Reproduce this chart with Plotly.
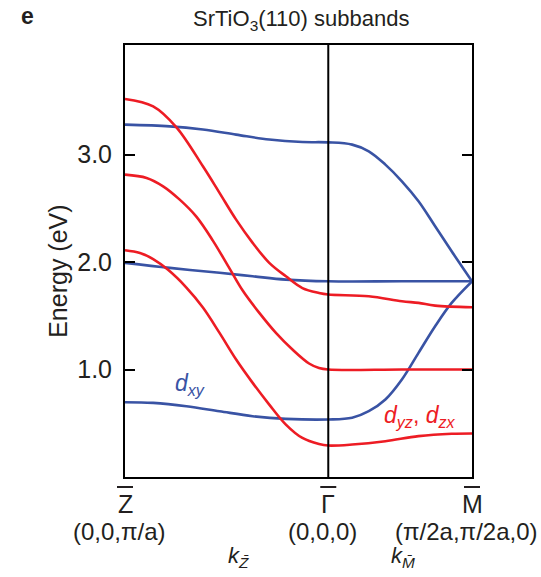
import plotly.graph_objects as go

# k-path positions (units of pi/a): Z-bar, Gamma-bar, M-bar
K_Z = 0.0
K_G = 1.0
K_M = 1.7071
point_labels = ["Z", "Γ", "M"]
point_coords = ["(0,0,π/a)", "(0,0,0)", "(π/2a,π/2a,0)"]

# d_xy subbands (blue)
xy1_k = [0, 0.2203, 0.3833, 0.5467, 0.7097, 0.8727, 1.0, 1.1175, 1.1992, 1.2810, 1.3622, 1.4440, 1.5257, 1.6070, 1.7071]
xy1_e = [3.279, 3.263, 3.233, 3.186, 3.140, 3.117, 3.114, 3.093, 3.031, 2.907, 2.752, 2.566, 2.333, 2.100, 1.821]
xy2_k = [0, 0.2203, 0.4650, 0.6280, 0.7915, 1.0, 1.3622, 1.7071]
xy2_e = [1.993, 1.946, 1.900, 1.868, 1.837, 1.821, 1.821, 1.821]
xy3_k = [0, 0.1385, 0.3020, 0.4650, 0.6280, 0.7915, 1.0, 1.1175, 1.1992, 1.2810, 1.3622, 1.4440, 1.5257, 1.6070, 1.7071]
xy3_e = [0.696, 0.690, 0.659, 0.612, 0.566, 0.541, 0.535, 0.551, 0.612, 0.721, 0.907, 1.155, 1.403, 1.620, 1.821]

# d_yz / d_zx subbands (red)
yz1_k = [0, 0.1385, 0.2531, 0.3833, 0.4650, 0.5467, 0.6280, 0.7097, 0.7915, 0.8727, 0.9545, 1.0, 1.1992, 1.3622, 1.4440, 1.5257, 1.7071]
yz1_e = [3.518, 3.449, 3.254, 2.891, 2.644, 2.395, 2.179, 1.993, 1.868, 1.758, 1.712, 1.698, 1.682, 1.635, 1.620, 1.595, 1.580]
yz2_k = [0, 0.1062, 0.1875, 0.2692, 0.3510, 0.4322, 0.5090, 0.5790, 0.6608, 0.7425, 0.8238, 0.9055, 0.9545, 1.0, 1.3622, 1.7071]
yz2_e = [2.814, 2.783, 2.705, 2.581, 2.423, 2.200, 1.958, 1.735, 1.527, 1.341, 1.186, 1.056, 1.014, 1.000, 1.000, 1.000]
yz3_k = [0, 0.0734, 0.1385, 0.2105, 0.3020, 0.3833, 0.4650, 0.5467, 0.6280, 0.7097, 0.7915, 0.8727, 0.9545, 1.0, 1.1175, 1.2810, 1.4440, 1.6070, 1.7071]
yz3_e = [2.110, 2.084, 2.028, 1.930, 1.763, 1.577, 1.341, 1.093, 0.876, 0.674, 0.488, 0.363, 0.307, 0.293, 0.302, 0.333, 0.380, 0.402, 0.405]

y_ticks = [1.0, 2.0, 3.0]
y_ticktext = ["1.0", "2.0", "3.0"]

RED = "#ED1C24"
BLUE = "#3953A4"
INK = "#231F20"
FONT = "Liberation Sans, Arial, sans-serif"

fig = go.Figure()
for k, e in [(xy1_k, xy1_e), (xy2_k, xy2_e), (xy3_k, xy3_e)]:
    fig.add_trace(go.Scatter(x=k, y=e, mode="lines",
                             line=dict(color=BLUE, width=2.6, shape="spline", smoothing=1.0),
                             hoverinfo="skip", showlegend=False))
for k, e in [(yz1_k, yz1_e), (yz2_k, yz2_e), (yz3_k, yz3_e)]:
    fig.add_trace(go.Scatter(x=k, y=e, mode="lines",
                             line=dict(color=RED, width=2.6, shape="spline", smoothing=1.0),
                             hoverinfo="skip", showlegend=False))

# Gamma vertical line
fig.add_shape(type="line", xref="x", yref="paper", x0=K_G, x1=K_G, y0=0, y1=1,
              line=dict(color="black", width=2))

# overbars above high-symmetry labels
for kx in [K_Z, K_G, K_M]:
    fig.add_shape(type="line", xref="paper", yref="paper",
                  xsizemode="pixel", xanchor=(kx - K_Z) / (K_M - K_Z), x0=-8, x1=8,
                  ysizemode="pixel", yanchor=0, y0=-10, y1=-10,
                  line=dict(color=INK, width=2))

ann = []
for kx, lab, crd in zip([K_Z, K_G, K_M], point_labels, point_coords):
    ann.append(dict(x=kx, y=0, xref="x", yref="paper", text=lab, showarrow=False,
                    xanchor="center", yanchor="middle", yshift=-27,
                    font=dict(size=25, color=INK, family=FONT)))
    ann.append(dict(x=kx, y=0, xref="x", yref="paper", text=crd, showarrow=False,
                    xanchor="center", yanchor="middle", yshift=-54, xshift=-6,
                    font=dict(size=24, color=INK, family=FONT)))

ann.append(dict(x=(K_Z + K_G) / 2 + 0.06, y=0, xref="x", yref="paper",
                text="<i>k</i><sub><i>Z̄</i></sub>", showarrow=False,
                xanchor="center", yanchor="middle", yshift=-80,
                font=dict(size=22, color=INK, family=FONT)))
ann.append(dict(x=K_G + 0.37, y=0, xref="x", yref="paper",
                text="<i>k</i><sub><i>M̄</i></sub>", showarrow=False,
                xanchor="center", yanchor="middle", yshift=-80,
                font=dict(size=22, color=INK, family=FONT)))

ann.append(dict(x=0.318, y=0.86, xref="x", yref="y", text="<i>d</i><sub><i>xy</i></sub>",
                showarrow=False, xanchor="center",
                font=dict(size=23, color=BLUE, family=FONT)))
ann.append(dict(x=1.449, y=0.56, xref="x", yref="y",
                text="<i>d</i><sub><i>yz</i></sub>, <i>d</i><sub><i>zx</i></sub>",
                showarrow=False, xanchor="center",
                font=dict(size=23, color=RED, family=FONT)))

ann.append(dict(x=0.508, y=1.058, xref="paper", yref="paper",
                text="SrTiO<sub>3</sub>(110) subbands", showarrow=False,
                xanchor="center", yanchor="middle",
                font=dict(size=22, color=INK, family=FONT)))
ann.append(dict(x=-0.282, y=1.068, xref="paper", yref="paper", text="<b>e</b>",
                showarrow=False, xanchor="center", yanchor="middle",
                font=dict(size=23, color=INK, family=FONT)))
ann.append(dict(x=-0.193, y=0.475, xref="paper", yref="paper", text="Energy (eV)",
                textangle=-90, showarrow=False, xanchor="center", yanchor="middle",
                font=dict(size=25, color=INK, family=FONT)))

fig.update_layout(
    width=541, height=577,
    margin=dict(l=125, r=69, t=45, b=100),
    paper_bgcolor="white", plot_bgcolor="white",
    annotations=ann,
    xaxis=dict(range=[K_Z, K_M], showgrid=False, zeroline=False, showline=True,
               linecolor="black", linewidth=2, mirror=True, ticks="",
               showticklabels=False, fixedrange=True),
    yaxis=dict(range=[0, 4.02], showgrid=False, zeroline=False, showline=True,
               linecolor="black", linewidth=2, mirror="ticks", ticks="inside",
               ticklen=10, tickwidth=2, tickcolor="black",
               tickvals=y_ticks, ticktext=y_ticktext, ticklabelstandoff=6,
               tickfont=dict(size=25, color=INK, family=FONT), fixedrange=True),
)

fig.write_html("out.html")
